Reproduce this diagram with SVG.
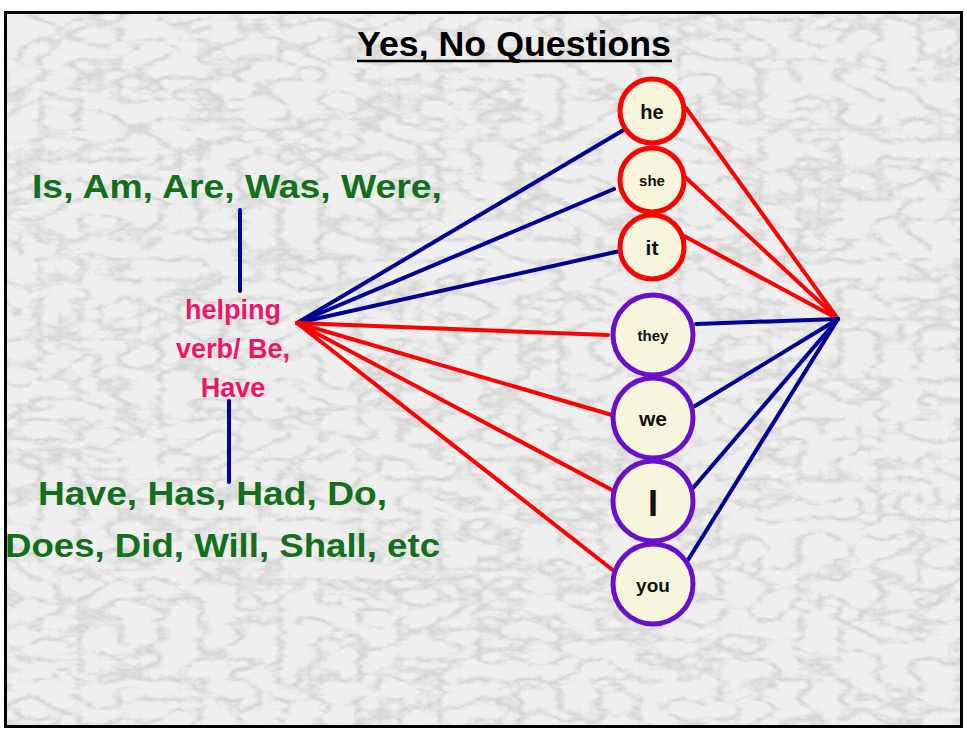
<svg xmlns="http://www.w3.org/2000/svg" width="967" height="731" viewBox="0 0 967 731">
<defs>
<filter id="marble" x="0" y="0" width="100%" height="100%">
<feTurbulence type="turbulence" baseFrequency="0.025 0.05" numOctaves="4" seed="3" result="n"/>
<feColorMatrix in="n" type="matrix" values="0 0 0 0 0  0 0 0 0 0  0 0 0 0 0  -2.2 0 0 0 0.75" result="a"/>
<feFlood flood-color="#808080" result="c"/>
<feComposite in="c" in2="a" operator="in" result="veins"/>
<feComponentTransfer in="veins"><feFuncA type="linear" slope="0.38"/></feComponentTransfer>
</filter>
<style>
.bg{fill:#efefef}
.conn-blue{stroke:#000099;stroke-width:4;stroke-linecap:round;fill:none}
.conn-red{stroke:#ff0000;stroke-width:4;stroke-linecap:round;fill:none}
.cr{fill:#f7f6dc;stroke:#ff0000;stroke-width:5}
.cp{fill:#f7f6dc;stroke:#6a10cc;stroke-width:5}
.lbl{font-family:"Liberation Sans",Arial,sans-serif;font-weight:bold;fill:#111;text-anchor:middle}
.green{font-family:"Liberation Sans",Arial,sans-serif;font-weight:bold;fill:#12701c;font-size:33px}
.pink{font-family:"Liberation Sans",Arial,sans-serif;font-weight:bold;fill:#f01468;font-size:27px;text-anchor:middle}
</style>
</defs>
<rect x="0" y="0" width="967" height="731" fill="#ffffff"/>
<rect class="bg" x="5" y="12" width="957" height="715"/>
<rect x="5" y="12" width="957" height="715" fill="#000" filter="url(#marble)"/>
<rect x="5.5" y="12.5" width="956" height="714" fill="none" stroke="#000" stroke-width="3"/>

<g id="title">
<text x="514" y="56" font-family="'Liberation Sans',Arial,sans-serif" font-weight="bold" font-size="35" text-anchor="middle" fill="#000" textLength="314" lengthAdjust="spacingAndGlyphs">Yes, No Questions</text>
<line x1="357" y1="61" x2="672" y2="61" stroke="#000" stroke-width="2.5"/>
</g>

<g id="connectors">
<line class="conn-blue" x1="240" y1="210" x2="240" y2="291"/>
<line class="conn-blue" x1="229" y1="401" x2="229" y2="482"/>
<line class="conn-blue" x1="297" y1="323" x2="627" y2="128"/>
<line class="conn-blue" x1="297" y1="323" x2="614" y2="189"/>
<line class="conn-blue" x1="297" y1="323" x2="620" y2="251"/>
<line class="conn-red" x1="297" y1="323" x2="608" y2="335"/>
<line class="conn-red" x1="297" y1="323" x2="612" y2="415"/>
<line class="conn-red" x1="297" y1="323" x2="612" y2="490"/>
<line class="conn-red" x1="297" y1="323" x2="614" y2="571"/>
<line class="conn-red" x1="838" y1="319" x2="686" y2="108"/>
<line class="conn-red" x1="838" y1="319" x2="684" y2="176"/>
<line class="conn-red" x1="838" y1="319" x2="684" y2="236"/>
<line class="conn-blue" x1="838" y1="319" x2="696" y2="324"/>
<line class="conn-blue" x1="838" y1="319" x2="695" y2="406"/>
<line class="conn-blue" x1="838" y1="319" x2="693" y2="488"/>
<line class="conn-blue" x1="838" y1="319" x2="688" y2="560"/>
</g>

<g id="be-verbs"><text class="green" x="32" y="198" textLength="410" lengthAdjust="spacingAndGlyphs">Is, Am, Are, Was, Were,</text></g>
<g id="helping-verb">
<text class="pink" x="233" y="319">helping</text>
<text class="pink" x="233" y="358">verb/ Be,</text>
<text class="pink" x="233" y="397">Have</text>
</g>
<g id="have-verbs">
<text class="green" x="38" y="505" textLength="349" lengthAdjust="spacingAndGlyphs">Have, Has, Had, Do,</text>
<text class="green" x="5" y="557" textLength="435" lengthAdjust="spacingAndGlyphs">Does, Did, Will, Shall, etc</text>
</g>

<g id="he"><circle class="cr" cx="652" cy="111" r="32"/><text class="lbl" x="652" y="119" font-size="20">he</text></g>
<g id="she"><circle class="cr" cx="652" cy="180" r="32"/><text class="lbl" x="652" y="186" font-size="15">she</text></g>
<g id="it"><circle class="cr" cx="652" cy="247" r="32"/><text class="lbl" x="652" y="255" font-size="21">it</text></g>
<g id="they"><circle class="cp" cx="653" cy="335" r="40"/><text class="lbl" x="653" y="341" font-size="15">they</text></g>
<g id="we"><circle class="cp" cx="653" cy="418" r="40"/><text class="lbl" x="653" y="426" font-size="21">we</text></g>
<g id="I"><circle class="cp" cx="653" cy="501" r="40"/><text class="lbl" x="653" y="516" font-size="36">I</text></g>
<g id="you"><circle class="cp" cx="653" cy="584" r="40"/><text class="lbl" x="653" y="592" font-size="19">you</text></g>
</svg>
